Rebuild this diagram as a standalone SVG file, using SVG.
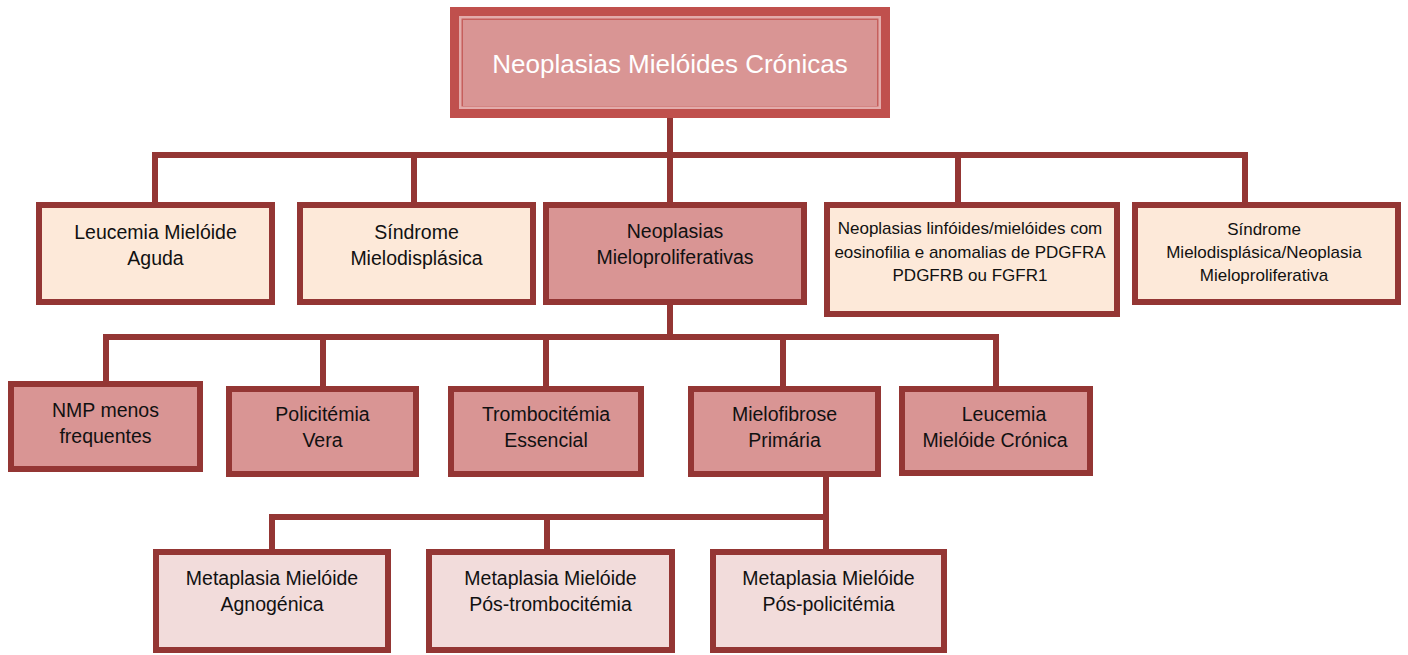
<svg xmlns="http://www.w3.org/2000/svg" width="1408" height="655" viewBox="0 0 1408 655">
<style>
.conn{fill:none;stroke:#943634;stroke-width:6;stroke-linecap:square}
.box{stroke:#943634;stroke-width:6}
.l1{fill:#fde9d9}
.l2{fill:#d99594}
.l3{fill:#f2dcdb}
text{font-family:"Liberation Sans",Arial,sans-serif;fill:#111;text-anchor:middle}
.t{font-size:19.5px}
.s{font-size:17px}
.top{font-size:26px;fill:#fff}
</style>
<rect width="1408" height="655" fill="#fff"/>
<g id="connectors">
<path class="conn" d="M670,118 V155"/>
<path class="conn" d="M155,203 V155 H1245 V203"/>
<path class="conn" d="M414,155 V203"/>
<path class="conn" d="M670,155 V203"/>
<path class="conn" d="M958,155 V203"/>
<path class="conn" d="M670,305 V337"/>
<path class="conn" d="M106,381 V337 H996 V386"/>
<path class="conn" d="M323,337 V386"/>
<path class="conn" d="M546,337 V386"/>
<path class="conn" d="M783,337 V386"/>
<path class="conn" d="M826,477 V517"/>
<path class="conn" d="M272,549 V517 H826 V549"/>
<path class="conn" d="M547,517 V549"/>
</g>
<g id="root">
<rect x="450" y="7" width="440" height="111" fill="#c0504d"/>
<rect x="459" y="16" width="422" height="93" fill="#e3acab"/>
<rect x="461.5" y="18.5" width="417" height="88" fill="#c65f5c"/>
<rect x="463" y="20" width="414" height="86" fill="#d99594"/>
<text class="top" x="670" y="73">Neoplasias Mielóides Crónicas</text>
</g>
<g id="lma">
<rect class="box l1" x="39" y="205" width="233" height="97"/>
<text class="t" x="155.5" y="239">Leucemia Mielóide</text>
<text class="t" x="155.5" y="265">Aguda</text>
</g>
<g id="smd">
<rect class="box l1" x="300" y="205" width="233" height="97"/>
<text class="t" x="416.5" y="239">Síndrome</text>
<text class="t" x="416.5" y="265">Mielodisplásica</text>
</g>
<g id="nmp">
<rect class="box l2" x="546" y="205" width="258" height="97"/>
<text class="t" x="675" y="238">Neoplasias</text>
<text class="t" x="675" y="264">Mieloproliferativas</text>
</g>
<g id="linf">
<rect class="box l1" x="827" y="205" width="290" height="109"/>
<text class="s" x="970" y="234">Neoplasias linfóides/mielóides com</text>
<text class="s" x="970" y="258">eosinofilia e anomalias de PDGFRA</text>
<text class="s" x="970" y="281">PDGFRB ou FGFR1</text>
</g>
<g id="smdnmp">
<rect class="box l1" x="1135" y="205" width="263" height="97"/>
<text class="s" x="1264" y="235">Síndrome</text>
<text class="s" x="1264" y="258">Mielodisplásica/Neoplasia</text>
<text class="s" x="1264" y="281">Mieloproliferativa</text>
</g>
<g id="nmp-menos">
<rect class="box l2" x="11" y="384" width="189" height="85"/>
<text class="t" x="105.5" y="417">NMP menos</text>
<text class="t" x="105.5" y="443">frequentes</text>
</g>
<g id="pv">
<rect class="box l2" x="229" y="389" width="187" height="85"/>
<text class="t" x="322.5" y="421">Policitémia</text>
<text class="t" x="322.5" y="447">Vera</text>
</g>
<g id="te">
<rect class="box l2" x="451" y="389" width="190" height="85"/>
<text class="t" x="546" y="421">Trombocitémia</text>
<text class="t" x="546" y="447">Essencial</text>
</g>
<g id="mf">
<rect class="box l2" x="691" y="389" width="187" height="85"/>
<text class="t" x="784.5" y="421">Mielofibrose</text>
<text class="t" x="784.5" y="447">Primária</text>
</g>
<g id="lmc">
<rect class="box l2" x="902" y="389" width="188" height="84"/>
<text class="t" x="1004" y="421">Leucemia</text>
<text class="t" x="995" y="447">Mielóide Crónica</text>
</g>
<g id="mma">
<rect class="box l3" x="156" y="552" width="232" height="98"/>
<text class="t" x="272" y="585">Metaplasia Mielóide</text>
<text class="t" x="272" y="611">Agnogénica</text>
</g>
<g id="mmpt">
<rect class="box l3" x="429" y="552" width="243" height="98"/>
<text class="t" x="550.5" y="585">Metaplasia Mielóide</text>
<text class="t" x="550.5" y="611">Pós-trombocitémia</text>
</g>
<g id="mmpp">
<rect class="box l3" x="713" y="552" width="231" height="98"/>
<text class="t" x="828.5" y="585">Metaplasia Mielóide</text>
<text class="t" x="828.5" y="611">Pós-policitémia</text>
</g>
</svg>
